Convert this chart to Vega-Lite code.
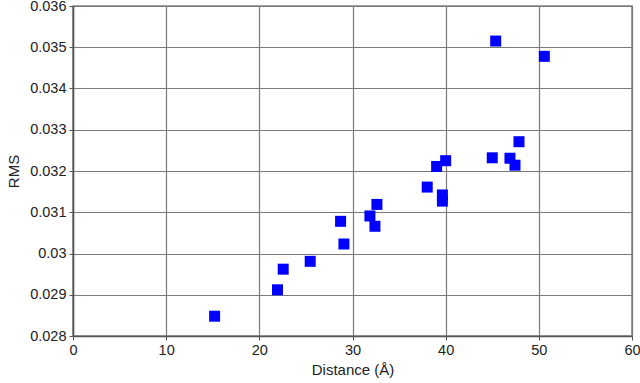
{
  "$schema": "https://vega.github.io/schema/vega-lite/v6.json",
  "autosize": "none",
  "width": 559,
  "height": 330,
  "padding": {"left": 73, "top": 6, "right": 8, "bottom": 47},
  "background": "white",
  "config": {
    "view": {"stroke": "#808080", "strokeWidth": 1.5},
    "font": "Liberation Sans",
    "axis": {
      "gridColor": "#7a7a7a",
      "gridOpacity": 1,
      "gridWidth": 1.2,
      "domainColor": "#555555",
      "domainWidth": 1.5,
      "tickColor": "#555555",
      "tickSize": 4,
      "labelFont": "Liberation Sans",
      "labelFontSize": 14.5,
      "labelColor": "#222222",
      "titleFont": "Liberation Sans",
      "titleFontSize": 15,
      "titleFontWeight": "normal",
      "titleColor": "#222222"
    }
  },
  "data": {
    "values": [
      {"distance": 15.2, "rms": 0.02848},
      {"distance": 21.95, "rms": 0.02912},
      {"distance": 22.56, "rms": 0.02962},
      {"distance": 25.46, "rms": 0.02981},
      {"distance": 28.72, "rms": 0.03078},
      {"distance": 29.08, "rms": 0.03023},
      {"distance": 31.87, "rms": 0.03091},
      {"distance": 32.41, "rms": 0.03066},
      {"distance": 32.62, "rms": 0.03119},
      {"distance": 38.02, "rms": 0.03161},
      {"distance": 39.03, "rms": 0.03211},
      {"distance": 39.65, "rms": 0.03142},
      {"distance": 39.65, "rms": 0.03127},
      {"distance": 40.0, "rms": 0.03225},
      {"distance": 45.0, "rms": 0.03232},
      {"distance": 46.9, "rms": 0.03231},
      {"distance": 47.44, "rms": 0.03214},
      {"distance": 47.87, "rms": 0.03271},
      {"distance": 45.37, "rms": 0.03515},
      {"distance": 50.59, "rms": 0.03478}
    ]
  },
  "mark": {"type": "square", "color": "#0000FF", "opacity": 1, "size": 121},
  "encoding": {
    "x": {
      "field": "distance", "type": "quantitative",
      "scale": {"domain": [0, 60], "nice": false, "zero": false},
      "axis": {"values": [0, 10, 20, 30, 40, 50, 60], "title": "Distance (Å)", "labelPadding": 3, "titlePadding": 6, "labelFlush": false}
    },
    "y": {
      "field": "rms", "type": "quantitative",
      "scale": {"domain": [0.028, 0.036], "nice": false, "zero": false},
      "axis": {"values": [0.028, 0.029, 0.03, 0.031, 0.032, 0.033, 0.034, 0.035, 0.036], "format": "~g", "title": "RMS", "labelPadding": 3, "titlePadding": 8, "labelFlush": false}
    }
  }
}
